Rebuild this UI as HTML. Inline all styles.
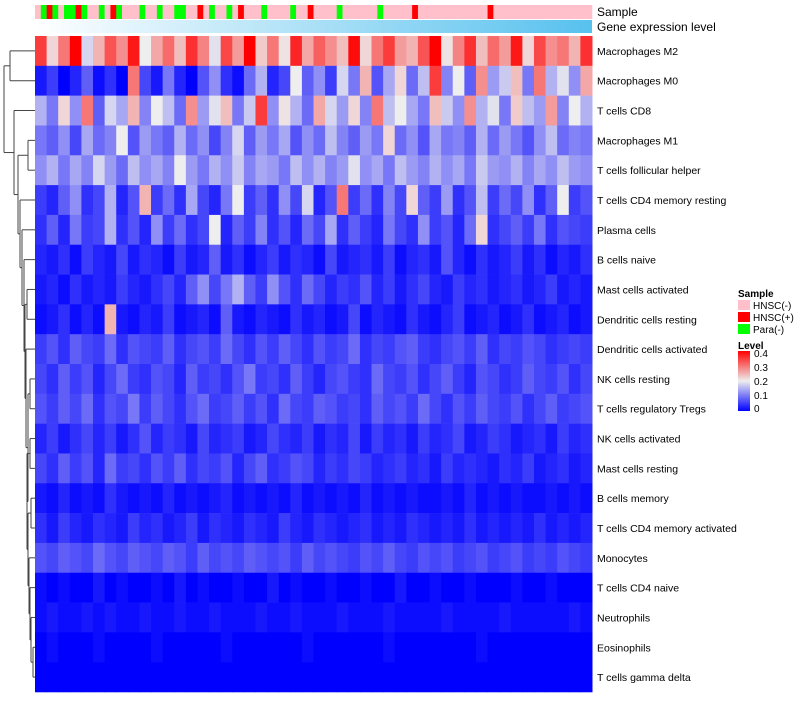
<!DOCTYPE html>
<html><head><meta charset="utf-8"><style>
body{margin:0;background:#fff;width:800px;height:700px;overflow:hidden;font-family:"Liberation Sans",sans-serif}
svg text{font-family:"Liberation Sans",sans-serif}
</style></head><body>
<svg id="chart" width="800" height="700" xmlns="http://www.w3.org/2000/svg">
<defs><linearGradient id="gexp" x1="0" x2="1"><stop offset="0" stop-color="#ffffff"/><stop offset="1" stop-color="#57c1ee"/></linearGradient>
<linearGradient id="lvl" x1="0" y1="1" x2="0" y2="0"><stop offset="0" stop-color="#0000ff"/><stop offset="0.5" stop-color="#eeeeee"/><stop offset="1" stop-color="#ff0000"/></linearGradient></defs>
<g id="sample-bar"></g>
<rect x="35" y="20" width="557" height="13" fill="url(#gexp)"/>
<text x="597" y="16" font-size="12">Sample</text>
<text x="597" y="31" font-size="12">Gene expression level</text>
<g id="cells"></g>
<g id="labels"></g>
<g id="dendro" stroke="#444" fill="none" stroke-width="1"></g>
<g font-size="10">
<text x="738" y="297" font-weight="bold">Sample</text>
<rect x="738" y="300" width="12" height="10" fill="#ffc0cb"/><text x="753" y="309">HNSC(-)</text>
<rect x="738" y="312" width="12" height="10" fill="#ff0000"/><text x="753" y="321">HNSC(+)</text>
<rect x="738" y="324" width="12" height="10" fill="#00ff00"/><text x="753" y="333">Para(-)</text>
</g>
<g font-size="10">
<text x="738" y="349" font-weight="bold">Level</text>
<rect x="738" y="351" width="12" height="60" fill="url(#lvl)"/>
<text x="754" y="357">0.4</text><text x="754" y="371">0.3</text><text x="754" y="385">0.2</text><text x="754" y="399">0.1</text><text x="754" y="412">0</text>
</g>
</svg>
<script>
const rowNames=["Macrophages M2","Macrophages M0","T cells CD8","Macrophages M1","T cells follicular helper","T cells CD4 memory resting","Plasma cells","B cells naive","Mast cells activated","Dendritic cells resting","Dendritic cells activated","NK cells resting","T cells regulatory  Tregs","NK cells activated","Mast cells resting","B cells memory","T cells CD4 memory activated","Monocytes","T cells CD4 naive","Neutrophils","Eosinophils","T cells gamma delta"];
const r0=[35,22,30,40,18,25,33,28,38,20,26,31,24,36,29,19,34,27,40,23,30,21,37,26,32,28,24,39,22,30,35,27,25,33,40,21,29,36,24,31,27,38,22,34,28,30,25,36];
const r1=[2,5,0,3,8,1,4,0,30,6,2,10,3,0,7,12,4,1,9,15,3,6,20,8,12,5,18,10,25,7,14,22,9,16,35,11,20,8,28,13,17,24,10,30,15,19,12,26];
const r2=[15,10,22,12,30,8,18,14,25,11,20,16,9,28,13,19,24,10,17,35,12,21,15,9,26,18,13,22,11,30,16,20,14,10,24,17,12,28,15,19,10,23,16,13,27,11,20,15];
const r3=[10,8,12,6,14,9,11,20,7,13,10,8,15,9,12,6,11,18,8,13,10,14,7,12,9,16,11,8,13,10,22,9,12,7,14,10,11,8,15,9,13,10,7,12,16,9,11,10];
const r4=[12,15,10,14,11,18,13,9,16,12,14,11,20,13,10,15,12,17,11,14,13,10,16,12,15,11,13,19,12,14,10,16,13,11,15,12,14,10,17,13,12,15,11,14,12,16,13,12];
const r5=[5,3,8,12,4,6,15,3,7,25,5,9,4,14,6,3,10,20,5,8,4,12,6,18,3,7,30,5,9,4,11,6,22,8,5,13,4,7,16,5,9,6,12,4,8,20,5,7];
const r6=[4,8,3,10,5,6,15,4,7,3,12,5,9,4,6,20,3,8,5,11,4,7,3,9,6,14,4,8,5,3,10,6,4,12,5,7,3,9,22,4,6,8,5,10,4,7,6,5];
const r7=[3,2,4,1,5,3,2,6,2,4,3,1,5,2,3,8,2,4,1,3,5,2,4,3,1,6,2,3,4,2,5,1,3,4,2,7,3,1,4,2,3,5,2,4,1,3,2,4];
const r8=[2,3,1,4,2,3,2,5,3,2,4,6,3,8,12,6,10,15,8,5,12,7,4,9,6,3,5,4,7,3,5,2,4,6,3,2,5,3,4,2,3,4,2,3,5,2,3,2];
const r9=[1,2,4,1,3,1,25,2,1,3,2,5,1,2,3,1,8,2,1,3,2,1,4,2,3,1,2,6,1,3,2,1,4,2,1,3,5,1,2,3,1,2,4,1,2,3,1,2];
const r10=[5,7,4,8,6,5,9,4,7,6,5,8,4,6,7,5,9,6,4,7,5,8,6,4,7,5,6,9,4,6,5,7,8,5,4,6,7,5,8,4,6,5,7,6,4,5,6,5];
const r11=[6,4,8,5,7,3,6,9,5,4,7,6,3,8,5,6,4,7,10,5,6,4,8,5,3,6,7,5,4,9,6,5,7,4,6,8,5,3,7,6,4,5,8,6,5,7,4,6];
const r12=[7,5,8,6,9,4,7,6,10,5,8,6,4,7,9,5,6,8,5,7,4,9,6,5,8,7,5,6,4,8,6,7,5,9,6,4,7,5,8,6,5,7,4,6,8,5,6,7];
const r13=[3,5,2,4,6,3,5,2,4,7,3,5,4,2,6,3,4,5,2,3,6,4,3,5,2,4,3,6,2,5,3,4,2,5,3,4,6,2,3,5,4,2,3,4,2,5,3,4];
const r14=[6,4,8,5,7,3,9,5,6,4,7,5,8,4,6,5,7,3,6,8,4,5,7,6,3,5,4,6,5,3,4,5,3,4,2,5,3,4,3,2,4,3,5,2,3,4,2,3];
const r15=[2,1,3,1,2,1,4,2,1,2,1,3,1,2,1,2,3,1,2,1,2,1,3,1,2,1,2,1,3,1,2,1,2,1,1,2,1,3,1,2,1,2,1,1,2,1,2,1];
const r16=[4,2,5,3,2,4,3,2,5,3,4,2,3,5,2,4,3,2,4,3,2,5,3,2,4,3,2,3,4,2,3,2,4,3,2,3,2,4,2,3,2,3,2,4,2,3,2,3];
const r17=[7,6,8,7,6,9,7,6,8,7,6,8,7,5,8,6,7,6,8,7,6,7,5,8,6,7,6,5,7,6,8,6,5,7,6,7,5,6,7,5,6,7,5,6,5,7,6,5];
const r18=[1,0,1,0,0,2,0,1,0,0,1,0,2,0,1,0,0,1,0,0,2,0,1,0,0,1,0,0,1,0,0,2,0,0,1,0,0,1,0,0,0,1,0,0,1,0,0,0];
const r19=[1,2,1,1,2,1,2,1,1,2,1,1,2,1,1,2,1,1,1,2,1,1,2,1,1,1,2,1,1,1,2,1,1,1,1,2,1,1,1,1,2,1,1,1,1,1,2,1];
const r20=[0,1,0,0,0,1,0,0,0,0,1,0,0,0,0,0,1,0,0,0,0,0,0,1,0,0,0,0,0,0,1,0,0,0,0,0,0,0,1,0,0,0,0,0,0,0,0,0];
const r21=[0,0,0,0,0,0,0,0,0,0,0,0,0,0,0,0,0,0,0,0,0,0,0,0,0,0,0,0,0,0,0,0,0,0,0,0,0,0,0,0,0,0,0,0,0,0,0,0];
const levels=[r0,r1,r2,r3,r4,r5,r6,r7,r8,r9,r10,r11,r12,r13,r14,r15,r16,r17,r18,r19,r20,r21];
const sampleGroups=["N","G","P","G","N","G","G","P","G","N","N","G","N","P","G","N","N","N","G","N","N","G","N","N","G","G","N","N","P","N","G","N","N","G","N","P","N","N","N","G","N","N","N","N","G","N","N","P","N","N","N","N","G","N","N","N","N","N","N","G","N","N","N","N","N","P","N","N","N","N","N","N","N","N","N","N","N","N","P","N","N","N","N","N","N","N","N","N","N","N","N","N","N","N","N","N"];
const NS="http://www.w3.org/2000/svg";
const X0=35,X1=592,Y0=36,Y1=692;
const rowH=(Y1-Y0)/rowNames.length;
function yRow(i){return Y0+i*rowH;}
function xCol(j,n){return X0+j*(X1-X0)/n;}
function color(v){v=Math.max(0,Math.min(0.4,v));
 if(v<=0.2){const t=v/0.2;return "rgb("+Math.round(238*t)+","+Math.round(238*t)+","+Math.round(255-17*t)+")";}
 const t=(v-0.2)/0.2;return "rgb("+Math.round(238+17*t)+","+Math.round(238*(1-t))+","+Math.round(238*(1-t))+")";}
const cells=document.getElementById('cells');
levels.forEach(function(row,i){row.forEach(function(val,j){
 const r=document.createElementNS(NS,'rect');
 
 
 r.setAttribute('x',xCol(j,row.length));r.setAttribute('y',yRow(i));
 r.setAttribute('width',(X1-X0)/row.length+0.5);r.setAttribute('height',rowH+0.3);
 r.setAttribute('fill',color(val/100));cells.appendChild(r);});});
const sb=document.getElementById('sample-bar');
const sc={N:"#ffc0cb",P:"#ff0000",G:"#00ff00"};
sampleGroups.forEach(function(g,j){const r=document.createElementNS(NS,'rect');
 
 
 r.setAttribute('x',xCol(j,sampleGroups.length));r.setAttribute('y',5);
 r.setAttribute('width',(X1-X0)/sampleGroups.length+0.3);r.setAttribute('height',14);
 r.setAttribute('fill',sc[g]);sb.appendChild(r);});
const lb=document.getElementById('labels');
rowNames.forEach(function(n,i){const t=document.createElementNS(NS,'text');
 
 
 t.setAttribute('x',597);t.setAttribute('y',yRow(i)+rowH/2+4);t.setAttribute('font-size','10.5');
 t.textContent=n;lb.appendChild(t);});
const nO=[31,19,[33,20,21]];
const nP=[30,18,nO];
const nQ=[29,17,nP];
const nR=[28,[31,15,16],nQ];
const nS=[27,[30,13,14],nR];
const nT=[28,[30,11,12],nS];
const nU=[26,10,nT];
const nV=[25,[27,8,9],nU];
const nW=[24,7,nV];
const nZ=[22,6,nW];
const nY=[20,5,nZ];
const nX=[18,[28,3,4],nY];
const tree=[4,[10,0,1],[14,2,nX]];
const dg=document.getElementById('dendro');
function seg(x1,y1,x2,y2){const l=document.createElementNS(NS,'line');
 
 
 l.setAttribute('x1',x1);l.setAttribute('y1',y1);l.setAttribute('x2',x2);l.setAttribute('y2',y2);
 dg.appendChild(l);}
function draw(n){if(typeof n==='number')return{x:X0,y:yRow(n)+rowH/2};
 const a=draw(n[1]),b=draw(n[2]),h=n[0];
 seg(h,a.y,a.x,a.y);seg(h,b.y,b.x,b.y);seg(h,a.y,h,b.y);
 return{x:h,y:(a.y+b.y)/2};}
draw(tree);
</script>
</body></html>
